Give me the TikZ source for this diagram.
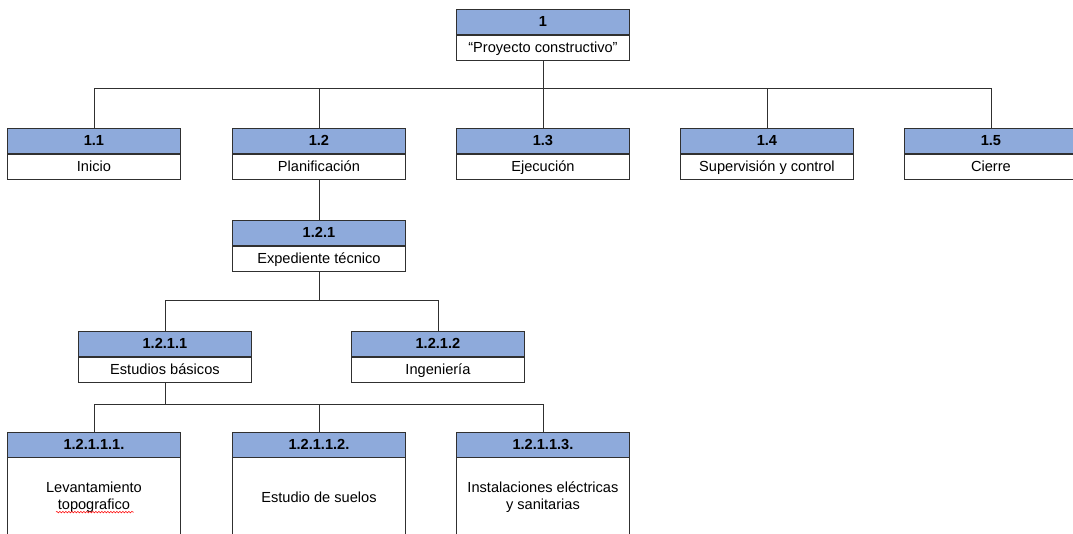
\documentclass[tikz,border=0pt]{standalone}
\usepackage{fontspec}
\setmainfont{Liberation Sans}
\usetikzlibrary{decorations.pathmorphing,calc}
\definecolor{hdrblue}{HTML}{8EAADB}
\definecolor{lineclr}{HTML}{303030}
\begin{document}
\begin{tikzpicture}[x=1pt,y=-1pt,
  hdr/.style={draw=lineclr, fill=hdrblue, line width=0.9pt, minimum width=173pt, minimum height=25pt, inner sep=0pt, anchor=north west, text height=11.5pt, text depth=2pt, font=\fontsize{14.6}{17}\selectfont\bfseries},
  bod/.style={draw=lineclr, fill=white, line width=0.9pt, minimum width=173pt, minimum height=25pt, inner sep=0pt, anchor=north, align=center, text height=11.5pt, text depth=2pt, font=\fontsize{14.6}{17}\selectfont},
  tallbod/.style={draw=none, minimum width=173pt, minimum height=78pt, inner sep=0pt, anchor=north, align=center, font=\fontsize{14.6}{17}\selectfont},
  conn/.style={draw=lineclr, line width=0.8pt}]
\clip (0,0) rectangle (1073,534);
\fill[white] (0,0) rectangle (1073,534);
% level 0
\node[hdr] (h1) at (456,9) {1};
\node[bod] (b1) at (h1.south) {“Proyecto constructivo”};
% level 1
\node[hdr] (h11) at (7,128) {1.1};
\node[bod] (b11) at (h11.south) {Inicio};
\node[hdr] (h12) at (232,128) {1.2};
\node[bod] (b12) at (h12.south) {Planificación};
\node[hdr] (h13) at (456,128) {1.3};
\node[bod] (b13) at (h13.south) {Ejecución};
\node[hdr] (h14) at (680,128) {1.4};
\node[bod] (b14) at (h14.south) {Supervisión y control};
\node[hdr] (h15) at (904,128) {1.5};
\node[bod] (b15) at (h15.south) {Cierre};
% level 2
\node[hdr] (h121) at (232,220) {1.2.1};
\node[bod] (b121) at (h121.south) {Expediente técnico};
% level 3
\node[hdr] (h1211) at (78,331) {1.2.1.1};
\node[bod] (b1211) at (h1211.south) {Estudios básicos};
\node[hdr] (h1212) at (351,331) {1.2.1.2};
\node[bod] (b1212) at (h1212.south) {Ingeniería};
% level 4
\node[hdr] (h12111) at (7,432) {1.2.1.1.1.};
\node[tallbod] (b12111) at (h12111.south) {Levantamiento\\topografico};
\node[hdr] (h12112) at (232,432) {1.2.1.1.2.};
\node[tallbod] (b12112) at (h12112.south) {Estudio de suelos};
\node[hdr] (h12113) at (456,432) {1.2.1.1.3.};
\node[tallbod] (b12113) at (h12113.south) {Instalaciones eléctricas\\y sanitarias};
\foreach \b in {b12111,b12112,b12113}{
  \draw[lineclr, line width=0.9pt] (\b.north west) -- ++(0,100);
  \draw[lineclr, line width=0.9pt] (\b.north east) -- ++(0,100);
}
\draw[red, line width=0.5pt, decorate, decoration={snake, amplitude=0.8pt, segment length=3pt}]
  ($(b12111.center)+(-38,15)$) -- ($(b12111.center)+(40,15)$);
% connectors
\coordinate (bus1) at ($(b1.south)+(0,28)$);
\draw[conn] (b1.south) -- (bus1);
\foreach \c in {h11,h12,h13,h14,h15}{
  \draw[conn] (bus1) -| (\c.north);
}
\draw[conn] (b12.south) -- (h121.north);
\coordinate (bus2) at ($(b121.south)+(0,29)$);
\draw[conn] (b121.south) -- (bus2);
\draw[conn] (bus2) -| (h1211.north);
\draw[conn] (bus2) -| (h1212.north);
\coordinate (bus3) at ($(b1211.south)+(0,22)$);
\draw[conn] (b1211.south) -- (bus3);
\foreach \c in {h12111,h12112,h12113}{
  \draw[conn] (bus3) -| (\c.north);
}
\end{tikzpicture}
\end{document}
